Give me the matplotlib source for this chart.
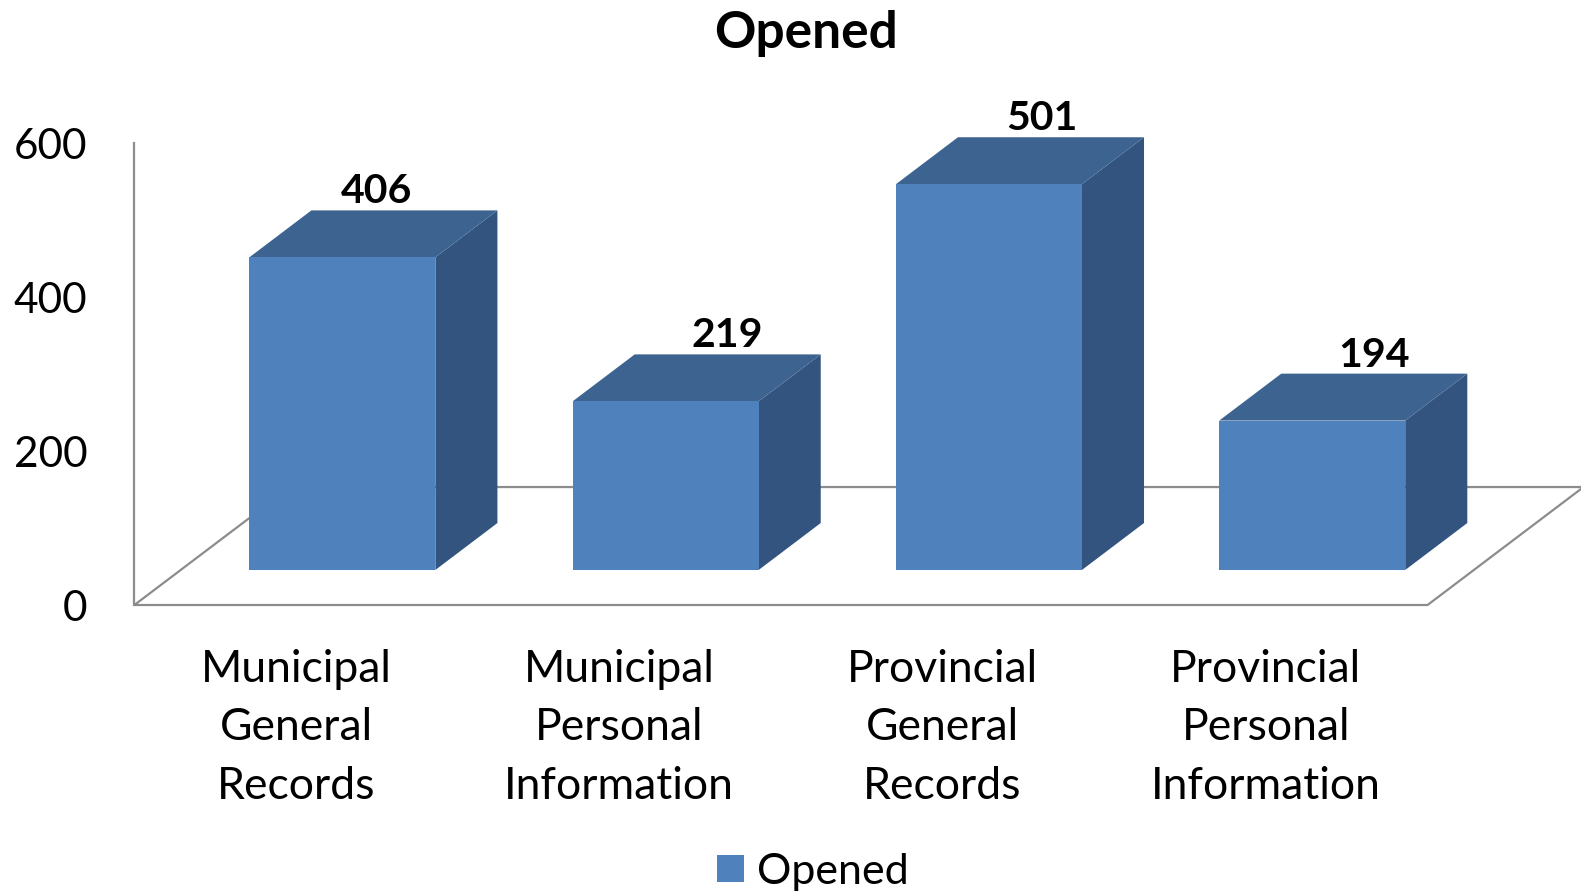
import matplotlib.pyplot as plt
from matplotlib.patches import Polygon, Patch

# chart data
categories = ['Municipal\nGeneral\nRecords', 'Municipal\nPersonal\nInformation',
              'Provincial\nGeneral\nRecords', 'Provincial\nPersonal\nInformation']
opened = [406, 219, 501, 194]
yticks = [0, 200, 400, 600]
series_name = 'Opened'

# where the value label sits across the top face (0 = front edge, 1 = back edge)
label_depth = [0.55, 1.0, 0.85, 1.0]

plt.rcParams['font.family'] = ['Lato', 'DejaVu Sans']

FRONT = '#4F81BD'
TOP = '#3D6491'
SIDE = '#32547F'
GRID = '#8C8C8C'

# oblique "3d" projection: full floor depth in data units
DX, DY = 0.4825, 153.2
Z0, Z1 = 0.297, 0.695      # bar depth span
HW = 0.2877                # bar half width


def proj(x, y, z):
    return (x + z * DX, y + z * DY)


fig = plt.figure(figsize=(15.81, 8.91), dpi=100)
ax = fig.add_axes([0, 0, 1, 1])
ax.set_xlim(-0.9156, 3.9747)
ax.set_ylim(-371.4, 785.7)
ax.axis('off')

n = len(categories)
x0, x1 = -0.5, n - 0.5

# floor
floor = [proj(x0, 0, 0), proj(x1, 0, 0), proj(x1, 0, 1), proj(x0, 0, 1)]
ax.add_patch(Polygon(floor, closed=True, facecolor='white', edgecolor=GRID, lw=1.6, zorder=1))
# value axis
ax.plot([x0, x0], [0, yticks[-1]], color=GRID, lw=1.6, zorder=1)

for t in yticks:
    ax.annotate(str(t), (x0, t), xytext=(-34, -3), textcoords='offset points',
                ha='right', va='center', fontsize=30.5)

for i, v in enumerate(opened):
    front = [proj(i - HW, 0, Z0), proj(i + HW, 0, Z0), proj(i + HW, v, Z0), proj(i - HW, v, Z0)]
    top = [proj(i - HW, v, Z0), proj(i + HW, v, Z0), proj(i + HW, v, Z1), proj(i - HW, v, Z1)]
    side = [proj(i + HW, 0, Z0), proj(i + HW, 0, Z1), proj(i + HW, v, Z1), proj(i + HW, v, Z0)]
    ax.add_patch(Polygon(side, closed=True, facecolor=SIDE, edgecolor='none', zorder=3))
    ax.add_patch(Polygon(top, closed=True, facecolor=TOP, edgecolor='none', zorder=3))
    ax.add_patch(Polygon(front, closed=True, facecolor=FRONT, edgecolor='none', zorder=4))
    lx, ly = proj(i, v, Z1)
    lx -= (1 - label_depth[i]) * (Z1 - Z0) * DX
    ax.annotate(str(v), (lx, ly), xytext=(0, 5), textcoords='offset points',
                ha='center', va='baseline', fontsize=29.5, fontweight='bold')
    ax.annotate(categories[i], (i, 0), xytext=(0, -31.5), textcoords='offset points',
                ha='center', va='top', fontsize=32, linespacing=1.53, multialignment='center')

fig.text(806 / 1581, 1 - 33.5 / 891, 'Opened', ha='center', va='center',
         fontsize=37, fontweight='bold')

handle = Patch(facecolor=FRONT, edgecolor='none')
fig.legend(handles=[handle], labels=[series_name], loc='center',
           bbox_to_anchor=(813 / 1581, 1 - 872 / 891), frameon=False, fontsize=31,
           handlelength=0.62, handleheight=0.6, handletextpad=0.3, borderpad=0)

plt.savefig('out.png', dpi=100)
